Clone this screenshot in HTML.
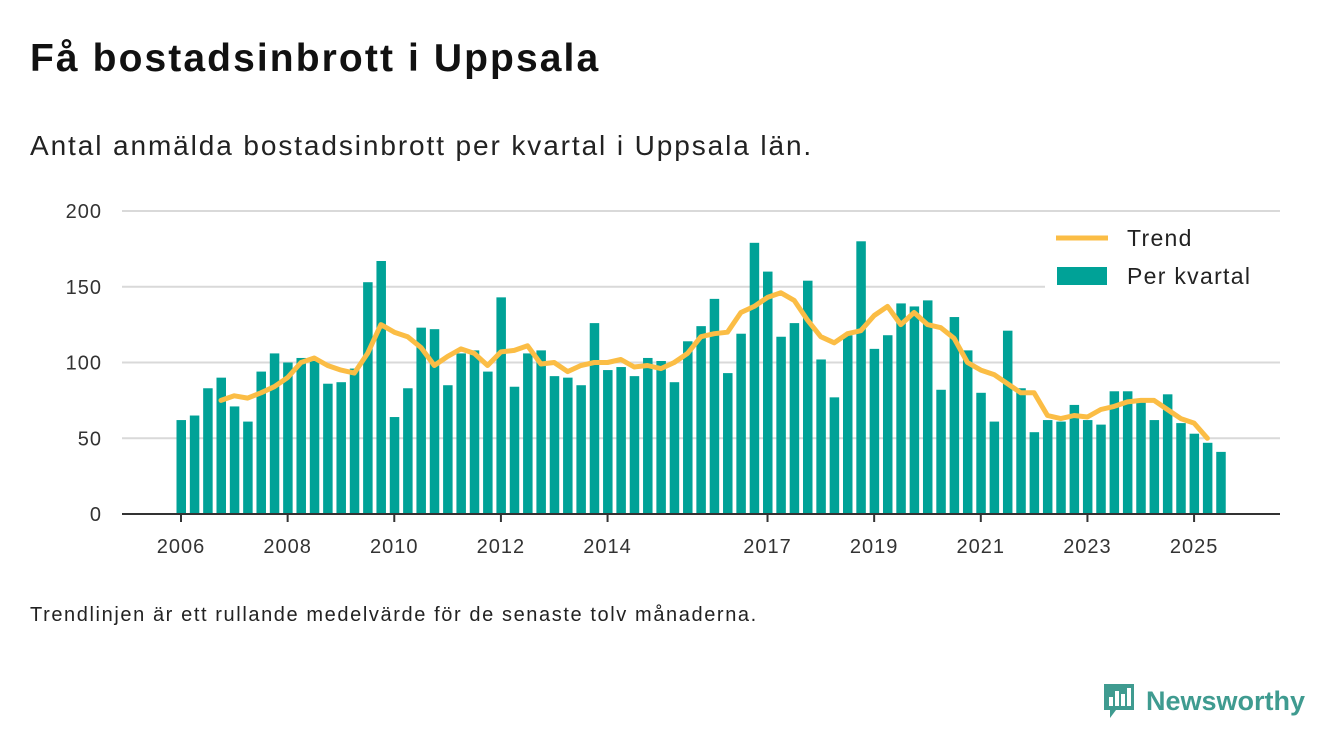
<!DOCTYPE html>
<html><head><meta charset="utf-8"><style>
body{margin:0;width:1340px;height:753px;background:#fff;font-family:"Liberation Sans","DejaVu Sans",sans-serif;overflow:hidden;position:relative;color:#111}
#title{position:absolute;left:30px;top:37px;font-size:39px;font-weight:bold;margin:0;letter-spacing:2.1px}
#sub{position:absolute;left:30px;top:130px;font-size:28px;color:#222;letter-spacing:1.9px}
#note{position:absolute;left:30px;top:604px;font-size:20px;color:#222;letter-spacing:1.6px}
#logo{position:absolute;left:1102px;top:682px;display:flex;align-items:center;gap:10px;color:#3f9b90;font-weight:bold;font-size:27px}
svg text{font-family:"Liberation Sans","DejaVu Sans",sans-serif}
</style></head><body>
<h1 id="title">Få bostadsinbrott i Uppsala</h1>
<div id="sub">Antal anmälda bostadsinbrott per kvartal i Uppsala län.</div>
<svg id="chart" width="1340" height="600" style="position:absolute;left:0;top:0"></svg>
<div id="note">Trendlinjen är ett rullande medelvärde för de senaste tolv månaderna.</div>
<div id="logo">
<svg width="34" height="38" viewBox="0 0 34 38"><path d="M2 2h30v26H14l-6 8v-8H2z" fill="#3f9b90"/><rect x="7" y="15" width="4" height="9" fill="#fff"/><rect x="13" y="9" width="4" height="15" fill="#fff"/><rect x="19" y="12" width="4" height="12" fill="#fff"/><rect x="25" y="6" width="4" height="18" fill="#fff"/></svg>
<span>Newsworthy</span></div>
<script>
const startYear = 2006;
const values = [62,65,83,90, 71,61,94,106, 100,103,101,86, 87,96,153,167, 64,83,123,122, 85,106,108,94, 143,84,106,108, 91,90,85,126, 95,97,91,103, 101,87,114,124, 142,93,119,179, 160,117,126,154, 102,77,118,180, 109,118,139,137, 141,82,130,108, 80,61,121,83, 54,62,61,72, 62,59,81,81, 74,62,79,60, 53,47,41];
const trendStart = 3;
const trend = [75,78,76.5,80,84,90,100,103,98,95,93,106,125,120,117,110,98,104,109,106,98,107,108,111,99,100,94,98,100,100,102,97,98,96,100,106,117,119,120,133,137,143,146,141,128,117,113,119,121,131,137,125,133,125,123,116,100,95,92,86,80,80,65,63,65,64,69,71,74,75,75,69,63,60,50];
const yTicks = [0,50,100,150,200];
const xTickYears = [2006,2008,2010,2012,2014,2017,2019,2021,2023,2025];
const svg = document.getElementById('chart');
const NS = 'http://www.w3.org/2000/svg';
const x0 = 181, step = 13.33, yBase = 514, yTop = 211, yMax = 200;
function xq(i){return x0 + i*step;}
function yv(v){return yBase - v/yMax*(yBase-yTop);}
function mk(t,a){const e=document.createElementNS(NS,t);for(const k in a)e.setAttribute(k,a[k]);svg.appendChild(e);return e;}
yTicks.forEach(t=>{
  if(t>0){const g=mk('line',{x1:122,x2:1280,y1:yv(t),y2:yv(t),stroke:'#d9d9d9','stroke-width':2});
  
  }
  const l=mk('text',{x:102,y:yv(t)+7,'text-anchor':'end','font-size':20,fill:'#333','letter-spacing':1});
  l.textContent=t;
  
  
});
values.forEach((v,i)=>{
  const b=mk('rect',{x:xq(i)-4.5,y:yv(v),width:9.5,height:yBase-yv(v),fill:'#00a297'});
  
  
});
const ax=mk('line',{x1:122,x2:1280,y1:yBase,y2:yBase,stroke:'#333','stroke-width':2});


xTickYears.forEach(yr=>{
  const x=xq((yr-startYear)*4);
  const tk=mk('line',{x1:x,x2:x,y1:yBase,y2:yBase+8,stroke:'#333','stroke-width':2});
  
  
  const l=mk('text',{x:x,y:553,'text-anchor':'middle','font-size':20,fill:'#333','letter-spacing':1});
  l.textContent=yr;
  
  
});
const pts=trend.map((v,i)=>xq(i+trendStart).toFixed(1)+','+yv(v).toFixed(1)).join(' ');
const tl=mk('polyline',{points:pts,fill:'none',stroke:'#fbbd45','stroke-width':5,'stroke-linejoin':'round','stroke-linecap':'round'});


const lb=mk('rect',{x:1045,y:220,width:235,height:70,fill:'#fff'});


const l1=mk('line',{x1:1056,x2:1108,y1:238,y2:238,stroke:'#fbbd45','stroke-width':5});


const t1=mk('text',{x:1127,y:246,'font-size':23,fill:'#222','letter-spacing':1.3});t1.textContent='Trend';


const l2=mk('rect',{x:1057,y:267,width:50,height:18,fill:'#00a297'});


const t2=mk('text',{x:1127,y:284,'font-size':23,fill:'#222','letter-spacing':1.3});t2.textContent='Per kvartal';


</script>
</body></html>
